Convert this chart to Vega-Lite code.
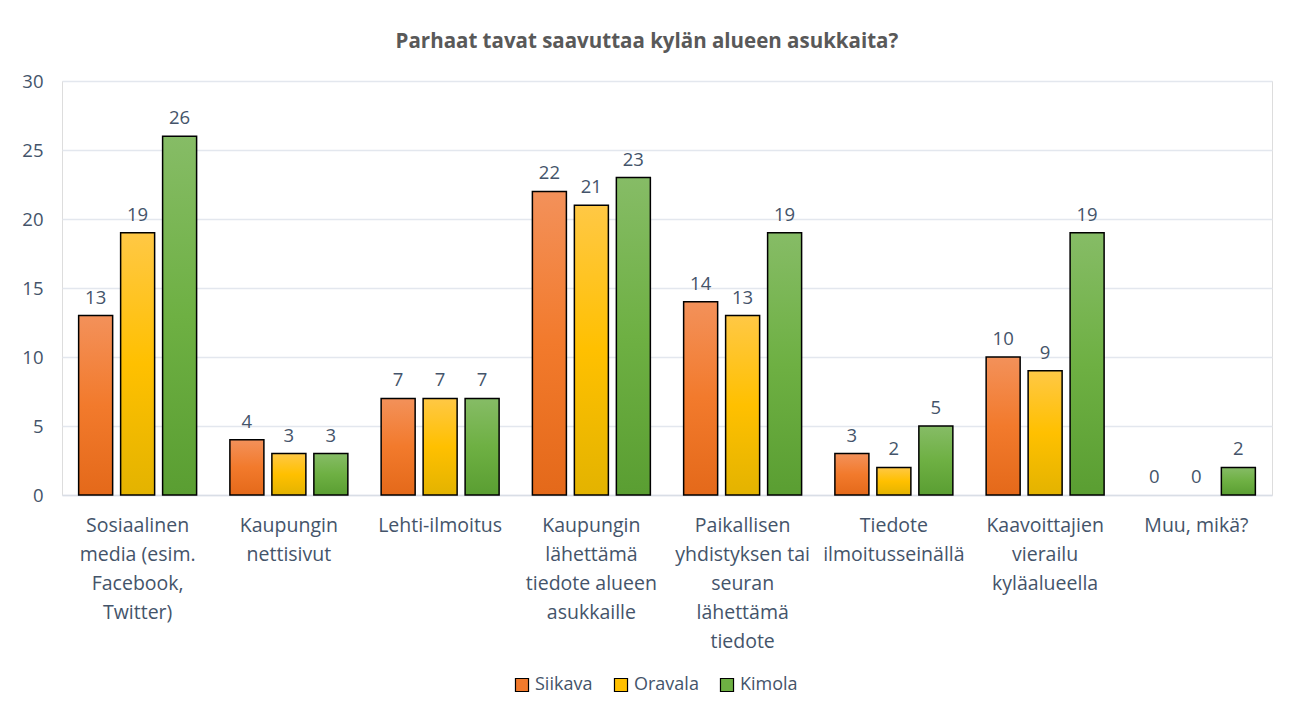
{
  "$schema": "https://vega.github.io/schema/vega-lite/v6.json",
  "width": 1210,
  "height": 414,
  "autosize": {"type": "none"},
  "padding": {"left": 62, "top": 81, "right": 19, "bottom": 216},
  "background": "white",
  "title": {
    "text": "Parhaat tavat saavuttaa kylän alueen asukkaita?",
    "font": "Open Sans",
    "fontSize": 20.5,
    "fontWeight": "bold",
    "color": "#595959",
    "anchor": "middle",
    "frame": "bounds",
    "offset": 20
  },
  "data": {
    "values": [
      {"kategoria": "Sosiaalinen media (esim. Facebook, Twitter)", "alue": "Siikava", "arvo": 13},
      {"kategoria": "Sosiaalinen media (esim. Facebook, Twitter)", "alue": "Oravala", "arvo": 19},
      {"kategoria": "Sosiaalinen media (esim. Facebook, Twitter)", "alue": "Kimola", "arvo": 26},
      {"kategoria": "Kaupungin nettisivut", "alue": "Siikava", "arvo": 4},
      {"kategoria": "Kaupungin nettisivut", "alue": "Oravala", "arvo": 3},
      {"kategoria": "Kaupungin nettisivut", "alue": "Kimola", "arvo": 3},
      {"kategoria": "Lehti-ilmoitus", "alue": "Siikava", "arvo": 7},
      {"kategoria": "Lehti-ilmoitus", "alue": "Oravala", "arvo": 7},
      {"kategoria": "Lehti-ilmoitus", "alue": "Kimola", "arvo": 7},
      {"kategoria": "Kaupungin lähettämä tiedote alueen asukkaille", "alue": "Siikava", "arvo": 22},
      {"kategoria": "Kaupungin lähettämä tiedote alueen asukkaille", "alue": "Oravala", "arvo": 21},
      {"kategoria": "Kaupungin lähettämä tiedote alueen asukkaille", "alue": "Kimola", "arvo": 23},
      {"kategoria": "Paikallisen yhdistyksen tai seuran lähettämä tiedote", "alue": "Siikava", "arvo": 14},
      {"kategoria": "Paikallisen yhdistyksen tai seuran lähettämä tiedote", "alue": "Oravala", "arvo": 13},
      {"kategoria": "Paikallisen yhdistyksen tai seuran lähettämä tiedote", "alue": "Kimola", "arvo": 19},
      {"kategoria": "Tiedote ilmoitusseinällä", "alue": "Siikava", "arvo": 3},
      {"kategoria": "Tiedote ilmoitusseinällä", "alue": "Oravala", "arvo": 2},
      {"kategoria": "Tiedote ilmoitusseinällä", "alue": "Kimola", "arvo": 5},
      {"kategoria": "Kaavoittajien vierailu kyläalueella", "alue": "Siikava", "arvo": 10},
      {"kategoria": "Kaavoittajien vierailu kyläalueella", "alue": "Oravala", "arvo": 9},
      {"kategoria": "Kaavoittajien vierailu kyläalueella", "alue": "Kimola", "arvo": 19},
      {"kategoria": "Muu, mikä?", "alue": "Siikava", "arvo": 0},
      {"kategoria": "Muu, mikä?", "alue": "Oravala", "arvo": 0},
      {"kategoria": "Muu, mikä?", "alue": "Kimola", "arvo": 2}
    ]
  },
  "encoding": {
    "x": {
      "field": "kategoria",
      "type": "nominal",
      "sort": null,
      "scale": {"paddingInner": 0.22, "paddingOuter": 0.11},
      "axis": {
        "title": null,
        "labelAngle": 0,
        "labelFont": "Open Sans",
        "labelFontSize": 19.5,
        "labelColor": "#44546A",
        "labelLineHeight": 29,
        "labelPadding": 21,
        "labelLimit": 300,
        "ticks": false,
        "domainColor": "#D9DEE6",
        "domainWidth": 1.5,
        "labelExpr": "({'Sosiaalinen media (esim. Facebook, Twitter)': ['Sosiaalinen','media (esim.','Facebook,','Twitter)'], 'Kaupungin nettisivut': ['Kaupungin','nettisivut'], 'Lehti-ilmoitus': ['Lehti-ilmoitus'], 'Kaupungin lähettämä tiedote alueen asukkaille': ['Kaupungin','lähettämä','tiedote alueen','asukkaille'], 'Paikallisen yhdistyksen tai seuran lähettämä tiedote': ['Paikallisen','yhdistyksen tai','seuran','lähettämä','tiedote'], 'Tiedote ilmoitusseinällä': ['Tiedote','ilmoitusseinällä'], 'Kaavoittajien vierailu kyläalueella': ['Kaavoittajien','vierailu','kyläalueella'], 'Muu, mikä?': ['Muu, mikä?']})[datum.label]"
      }
    },
    "xOffset": {
      "field": "alue",
      "type": "nominal",
      "sort": ["Siikava", "Oravala", "Kimola"],
      "scale": {"paddingInner": 0.19, "paddingOuter": 0}
    }
  },
  "layer": [
    {
      "transform": [{"filter": "datum.arvo > 0"}],
      "mark": {"type": "bar", "stroke": "#000000", "strokeWidth": 1.5},
      "encoding": {
        "y": {
          "field": "arvo",
          "type": "quantitative",
          "scale": {"domain": [0, 30]},
          "axis": {
            "title": null,
            "values": [0, 5, 10, 15, 20, 25, 30],
            "labelFont": "Open Sans",
            "labelFontSize": 18.5,
            "labelColor": "#44546A",
            "labelPadding": 19,
            "ticks": false,
            "domain": false,
            "gridColor": "#E3E7EE",
            "gridWidth": 1.3
          }
        },
        "color": {
          "condition": [
            {"test": "datum.alue === 'Siikava'", "value": {"gradient": "linear", "x1": 0, "y1": 0, "x2": 0, "y2": 1, "stops": [{"offset": 0, "color": "#F3915A"}, {"offset": 0.5, "color": "#F27A2C"}, {"offset": 1, "color": "#E4691A"}]}},
            {"test": "datum.alue === 'Oravala'", "value": {"gradient": "linear", "x1": 0, "y1": 0, "x2": 0, "y2": 1, "stops": [{"offset": 0, "color": "#FFC845"}, {"offset": 0.5, "color": "#FFC000"}, {"offset": 1, "color": "#E3B300"}]}},
            {"test": "datum.alue === 'Kimola'", "value": {"gradient": "linear", "x1": 0, "y1": 0, "x2": 0, "y2": 1, "stops": [{"offset": 0, "color": "#86BC66"}, {"offset": 0.5, "color": "#6EB043"}, {"offset": 1, "color": "#5A9E32"}]}}
          ],
          "field": "alue",
          "type": "nominal",
          "sort": ["Siikava", "Oravala", "Kimola"],
          "scale": {
            "domain": ["Siikava", "Oravala", "Kimola"],
            "range": ["#F27A2C", "#FFC000", "#6EB043"]
          },
          "legend": {
            "title": null,
            "orient": "none",
            "legendX": 451,
            "legendY": 595,
            "direction": "horizontal",
            "symbolType": "square",
            "symbolSize": 170,
            "symbolStrokeColor": "#000000",
            "symbolStrokeWidth": 1.2,
            "symbolOpacity": 1,
            "labelFont": "Open Sans",
            "labelFontSize": 18,
            "labelColor": "#44546A",
            "labelOffset": 4,
            "columnPadding": 19
          }
        }
      }
    },
    {
      "mark": {"type": "text", "baseline": "bottom", "dy": -8, "font": "Open Sans", "fontSize": 18.5, "color": "#44546A"},
      "encoding": {
        "y": {"field": "arvo", "type": "quantitative"},
        "text": {"field": "arvo", "type": "quantitative"}
      }
    }
  ]
}
